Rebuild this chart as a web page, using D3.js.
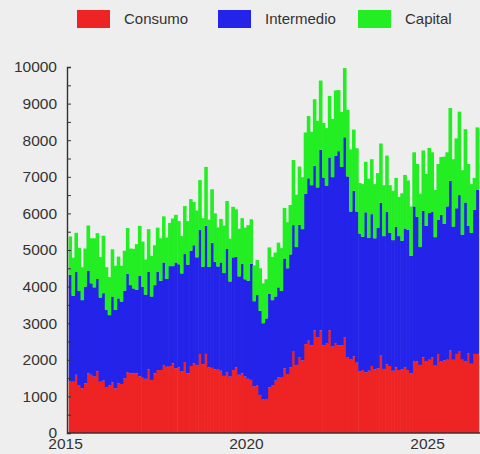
<!DOCTYPE html>
<html>
<head>
<meta charset="utf-8">
<script src="https://cdn.jsdelivr.net/npm/d3@7"></script>
<style>
  body { margin: 0; background: #eeeeee; }
  svg { display: block; font-family: "Liberation Sans", Arial, sans-serif; }
  .axis text { font-size: 15.5px; fill: #333; }
  .axis path, .axis line { stroke: #333; }
</style>
</head>
<body>
<svg id="chart" width="480" height="454"></svg>
<script>
// first month shown, then one value per month
var firstMonth = new Date(2015, 1, 1);

var series = ['Consumo', 'Intermedio', 'Capital'];
var colors = ['#ee2323', '#2323ea', '#23ee23'];

var consumo = [
  1420, 1400, 1590, 1310, 1220, 1360, 1630, 1590, 1540, 1680, 1400, 1430, 1240, 1300, 1380, 1220, 1360, 1340, 1490, 1660, 1630, 1630, 1630,
  1550, 1510, 1480, 1740, 1450, 1630, 1720, 1720, 1860, 1810, 1830, 1900, 1770, 1790, 1690, 1940, 1630, 1830, 1900, 1860, 2160, 1880, 2160,
  1790, 1780, 1740, 1730, 1700, 1560, 1650, 1540, 1720, 1790, 1590, 1630, 1540, 1480, 1450, 1270, 1310, 1040, 910, 930, 1250, 1310, 1430,
  1520, 1530, 1770, 1610, 1790, 2240, 1860, 2060, 1980, 2430, 2520, 2400, 2800, 2620, 2800, 2400, 2440, 2810, 2360, 2440, 2400, 2400, 2620,
  2060, 2020, 2090, 1920, 1690, 1720, 1660, 1700, 1830, 1740, 1770, 2130, 1750, 1880, 1830, 1700, 1790, 1720, 1740, 1800, 1720, 1630, 1950,
  1950, 1860, 2070, 1950, 2000, 2060, 1840, 2160, 1950, 1980, 2000, 2250, 2000, 2160, 2220, 2000, 1950, 2180, 1890, 2160, 2160
];
var intermedio = [
  2900, 2350, 2810, 2570, 2410, 2640, 2810, 2500, 2440, 2530, 2300, 2390, 2120, 1920, 2350, 2140, 2320, 2250, 2400, 2690, 2410, 2320, 2280,
  2740, 2490, 2300, 2660, 2280, 2410, 2680, 2440, 2800, 2400, 2730, 2660, 2890, 2820, 2670, 2950, 2970, 3150, 3230, 2940, 3390, 2660, 3500,
  2750, 3420, 2940, 2820, 2960, 2810, 3380, 2600, 3080, 3020, 2690, 2990, 2660, 2680, 3170, 2330, 2460, 2300, 2090, 2200, 2550, 2320, 2300,
  2460, 2350, 3000, 2890, 3090, 3440, 3220, 3630, 3590, 4100, 4440, 4370, 4500, 4090, 4940, 4580, 4320, 4720, 4630, 5130, 5300, 4870, 5460,
  4950, 4030, 4530, 4130, 3760, 3640, 4370, 3630, 4150, 3580, 3840, 4160, 3630, 4170, 3640, 3570, 3840, 3660, 3510, 3790, 3830, 3210, 4240,
  3960, 3220, 4000, 3710, 4010, 3990, 3510, 3660, 4010, 3730, 4190, 4640, 3640, 3980, 4280, 3420, 4350, 3480, 3580, 3940, 4480
];
var capital = [
  1050, 1040, 1070, 1180, 900, 1040, 1230, 1230, 1340, 1250, 1110, 1570, 1170, 1040, 1290, 1210, 1140, 980, 1090, 1250, 1000, 1080, 1250,
  1370, 1230, 960, 1170, 1110, 1090, 1210, 1160, 1260, 1130, 1180, 1300, 1300, 1180, 1020, 1310, 1190, 1410, 1180, 1280, 1360, 1330, 1610,
  1290, 1460, 1320, 1070, 1190, 1300, 1310, 1170, 1380, 1300, 1300, 1250, 1410, 1520, 1220, 980, 960, 1160, 1090, 1070, 1270, 1180, 1200,
  1220, 1170, 1380, 1260, 1350, 1780, 1430, 1590, 1420, 1680, 1700, 1460, 1820, 1820, 1890, 1490, 1570, 1680, 1590, 1790, 1670, 1500, 1890,
  1820, 1700, 1670, 1730, 1380, 1440, 1380, 1620, 1500, 1480, 1490, 1620, 1390, 1530, 1300, 1350, 1340, 1070, 1300, 1460, 1350, 1350, 1480,
  1440, 1460, 1650, 1420, 1780, 1620, 1290, 1530, 1580, 1840, 1480, 1990, 1840, 1910, 2280, 1760, 2000, 1690, 1330, 870, 1710
];
var xTicks = [2015, 2020, 2025];

var rows = consumo.map(function(v, i) {
  return {
    date: d3.timeMonth.offset(firstMonth, i),
    Consumo: v,
    Intermedio: intermedio[i],
    Capital: capital[i]
  };
});

var svg = d3.select('#chart');
var plotLeft = 67, plotBottom = 433, plotTop = 67;

var x = d3.scaleTime()
  .domain([new Date(2015, 0, 1), new Date(2025, 0, 1)])
  .range([plotLeft, 429]);
var y = d3.scaleLinear().domain([0, 10000]).range([plotBottom, plotTop]);
var color = d3.scaleOrdinal().domain(series).range(colors);

var stacked = d3.stack().keys(series)(rows);

function barWidth(d) {
  return x(d3.timeMonth.offset(d.data.date, 1)) - x(d.data.date);
}

var layers = svg.append('g')
  .selectAll('g')
  .data(stacked)
  .enter()
  .append('g')
  .attr('fill', function(d) { return color(d.key); });

// bars centred on the month, a little overlap hides the seams
layers.selectAll('rect')
  .data(function(d) { return d; })
  .enter()
  .append('rect')
  .attr('x', function(d) { return x(d.data.date) - barWidth(d) / 2; })
  .attr('width', function(d) { return barWidth(d) + 0.6; })
  .attr('y', function(d) { return y(d[1]); })
  .attr('height', function(d) { return y(d[0]) - y(d[1]); });

// y axis, ticks inside every 500, labels every 1000
var yAxis = d3.axisLeft(y)
  .tickValues(d3.range(0, 10001, 500))
  .tickSize(-4)
  .tickPadding(10)
  .tickFormat(function(d) { return d % 1000 === 0 ? d : ''; });
svg.append('g')
  .attr('class', 'axis')
  .attr('transform', 'translate(' + plotLeft + ',0)')
  .call(yAxis)
  .call(function(g) { g.select('.domain').attr('stroke-width', 1.4); });

var xAxis = d3.axisBottom(x)
  .tickValues(xTicks.map(function(yr) { return new Date(yr, 0, 1); }))
  .tickSize(0)
  .tickPadding(5)
  .tickFormat(d3.timeFormat('%Y'));
svg.append('g')
  .attr('class', 'axis')
  .attr('transform', 'translate(0,' + plotBottom + ')')
  .call(xAxis)
  .call(function(g) {
    g.select('.domain').attr('d', 'M' + plotLeft + ',0H480').attr('stroke-width', 1.4);
    g.selectAll('.tick text').attr('dx', -2);
  });

// legend
var legendX = [77, 218, 358];
var legend = svg.append('g')
  .selectAll('g')
  .data(series)
  .enter()
  .append('g')
  .attr('transform', function(d, i) { return 'translate(' + legendX[i] + ',10)'; });
legend.append('rect')
  .attr('width', 33)
  .attr('height', 18)
  .attr('fill', function(d) { return color(d); });
legend.append('text')
  .attr('x', 47)
  .attr('y', 9)
  .attr('dy', '0.35em')
  .attr('font-size', 15)
  .attr('fill', '#333')
  .text(function(d) { return d; });
</script>
</body>
</html>
